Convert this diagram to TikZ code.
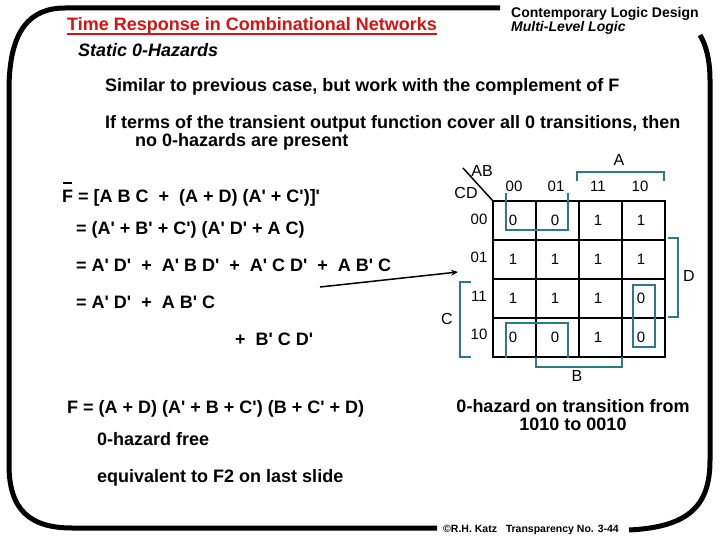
\documentclass[tikz,border=0pt]{standalone}
\usepackage{fontspec}
\newfontfamily\arial{Liberation Sans}
\usetikzlibrary{arrows.meta}
\definecolor{kred}{RGB}{214,18,18}
\definecolor{kteal}{RGB}{45,120,138}
\begin{document}
\begin{tikzpicture}[x=1pt,y=-1pt,
  txt/.style={font=\arial\bfseries\fontsize{18}{20}\selectfont, anchor=base west, inner sep=0pt},
  hdr/.style={font=\arial\bfseries\fontsize{14}{16}\selectfont, anchor=base west, inner sep=0pt},
  kv/.style={font=\arial\fontsize{15}{16}\selectfont, inner sep=0pt},
  klab/.style={font=\arial\fontsize{16}{16}\selectfont, inner sep=0pt},
  frame/.style={line width=5pt, line cap=butt},
  grid/.style={line width=2.6pt},
  loop/.style={draw=kteal, line width=2.6pt},
  brk/.style={draw=kteal, line width=2.6pt}]
\useasboundingbox (0,0) rectangle (720,540);
\fill[white] (0,0) rectangle (720,540);

% frame
\draw[frame] (500,8) -- (65,8) .. controls (30,8) and (9,30) .. (9,90) -- (9,465)
  .. controls (9,510) and (30,528) .. (72,528) -- (437,528);
\draw[frame] (700,35) .. controls (706,45) and (710,60) .. (710,80) -- (710,460)
  .. controls (710,505) and (690,527) .. (629,530);

% headers
\node[txt, text=kred] (title) at (67,31) {Time Response in Combinational Networks};
\draw[kred, line width=1.6pt] ([yshift=-3pt]title.base west) -- ([yshift=-3pt]title.base east);
\node[txt, font=\arial\bfseries\itshape\fontsize{18}{20}\selectfont] (sub) at (78,57) {Static 0-Hazards};
\node[hdr] (cld) at (511,18) {Contemporary Logic Design};
\node[hdr, font=\arial\bfseries\itshape\fontsize{14}{16}\selectfont] (mll) at (511,32) {Multi-Level Logic};

\node[txt] (l1) at (105,92) {Similar to previous case, but work with the complement of F};
\node[txt] (l2) at (105,129) {If terms of the transient output function cover all 0 transitions, then};
\node[txt] (l3) at (135,147) {no 0-hazards are present};

% formulas
\node[txt] (fb) at (62,203) {F = [A B C~~+~~(A + D) (A' + C')]'};
\draw[line width=1.6pt] ([xshift=1pt,yshift=20pt]fb.base west) -- ([xshift=10pt,yshift=20pt]fb.base west);
\node[txt] (e1) at (76,234) {= (A' + B' + C') (A' D' + A C)};
\node[txt] (e2) at (76,271) {= A' D'~~+~~A' B D'~~+~~A' C D'~~+~~A B' C};
\node[txt] (e3) at (76,308) {= A' D'~~+~~A B' C};
\node[txt] (e4) at (235,345) {+~~B' C D'};

\node[txt] (g1) at (67,413) {F = (A + D) (A' + B + C') (B + C' + D)};
\node[txt] (g2) at (97,445) {0-hazard free};
\node[txt] (g3) at (97,482) {equivalent to F2 on last slide};

\node[txt, anchor=base] (h1) at (573,412) {0-hazard on transition from};
\node[txt, anchor=base] (h2) at (573,430) {1010 to 0010};

\node[txt, font=\arial\bfseries\fontsize{10.5}{12}\selectfont] (foot) at (443,532) {©R.H. Katz~~~Transparency No. 3-44};

% K-map grid
\draw[grid] (493,201) rectangle (665,357);
\foreach \x in {536,579,622} \draw[grid] (\x,201) -- (\x,357);
\foreach \y in {240,279,318} \draw[grid] (493,\y) -- (665,\y);
\draw[line width=1.5pt] (463,168) -- (493,201);
\node[klab] (ab) at (482,171) {AB};
\node[klab] (cd) at (466,193) {CD};

% column and row headers
\foreach \t/\x [count=\i] in {00/514,01/556,11/598,10/640}
  \node[kv] (ch\i) at (\x,186) {\t};
\foreach \t/\y [count=\i] in {00/219,01/257,11/296,10/334}
  \node[kv] (rh\i) at (479,\y) {\t};

% cells
\node[kv] (c11) at (513,220) {0}; \node[kv] (c12) at (555,220) {0};
\node[kv] (c13) at (598,220) {1}; \node[kv] (c14) at (641,220) {1};
\node[kv] (c21) at (513,259) {1}; \node[kv] (c22) at (555,259) {1};
\node[kv] (c23) at (598,259) {1}; \node[kv] (c24) at (641,259) {1};
\node[kv] (c31) at (513,298) {1}; \node[kv] (c32) at (555,298) {1};
\node[kv] (c33) at (598,298) {1}; \node[kv] (c34) at (641,298) {0};
\node[kv] (c41) at (513,337) {0}; \node[kv] (c42) at (555,337) {0};
\node[kv] (c43) at (598,337) {1}; \node[kv] (c44) at (641,337) {0};

% brackets
\draw[brk] (577,181) -- (577,172) -- (664,172) -- (664,181);
\node[klab] (la) at (619,160) {A};
\draw[brk] (668,238) -- (678,238) -- (678,317) -- (668,317);
\node[klab] (ld) at (689,276) {D};
\draw[brk] (471,282) -- (460,282) -- (460,357) -- (471,357);
\node[klab] (lc) at (447,319) {C};
\draw[brk] (536,357) -- (536,367) -- (622,367) -- (622,357);
\node[klab] (lb) at (577,376) {B};

% loops
\draw[loop] (506,193) -- (506,230) -- (568,230) -- (568,193);
\draw[loop] (506,358) -- (506,323) -- (568,323) -- (568,358);
\draw[loop] (633,285) rectangle (655,347);

% arrow
\coordinate (as) at (320,287);
\coordinate (ae) at (458,272);
\draw[line width=1.5pt, -{Stealth[length=7pt,width=6pt]}] (as) -- (ae);
\end{tikzpicture}
\end{document}
